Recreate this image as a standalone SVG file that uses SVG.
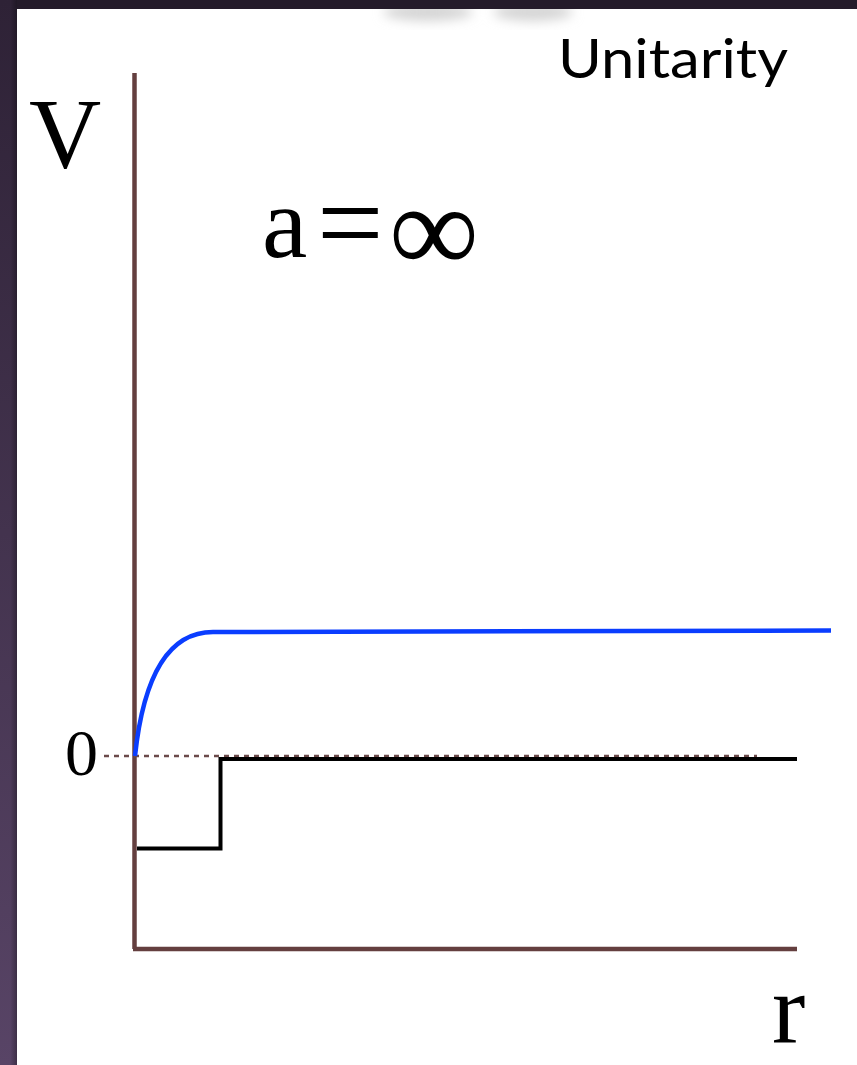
<svg xmlns="http://www.w3.org/2000/svg" width="857" height="1065" viewBox="0 0 857 1065">
<defs>
<linearGradient id="leftGrad" x1="0" y1="0" x2="0" y2="1">
<stop offset="0" stop-color="#2e2236"/>
<stop offset="1" stop-color="#584466"/>
</linearGradient>
<linearGradient id="leftEdge" x1="0" y1="0" x2="1" y2="0">
<stop offset="0" stop-color="#000" stop-opacity="0"/>
<stop offset="0.6" stop-color="#000" stop-opacity="0"/>
<stop offset="1" stop-color="#000" stop-opacity="0.3"/>
</linearGradient>
<filter id="blur" x="-50%" y="-50%" width="200%" height="200%">
<feGaussianBlur stdDeviation="6"/>
</filter>
<style>
.axis{stroke:#643f3f;stroke-width:4.5;fill:none}
.dash{stroke:#6b4a4a;stroke-width:2.5;stroke-dasharray:5 5;fill:none}
.pot{stroke:#000;stroke-width:4;fill:none}
.blue{stroke:#0a3dff;stroke-width:4.5;fill:none;stroke-linecap:butt}
.serif{font-family:"Liberation Serif","DejaVu Serif",serif;fill:#000}
.sans{font-family:Lato,"Open Sans","Liberation Sans",sans-serif;fill:#000}
</style>
</defs>
<rect x="0" y="0" width="857" height="1065" fill="#ffffff"/>
<g id="shadow" filter="url(#blur)" fill="#d4d4d4">
<ellipse cx="428" cy="12" rx="45" ry="9"/>
<ellipse cx="533" cy="12" rx="40" ry="9"/>
</g>
<rect x="0" y="0" width="857" height="9" fill="#241b2a"/>
<rect x="0" y="0" width="17" height="1065" fill="url(#leftGrad)"/>
<rect x="0" y="0" width="17" height="1065" fill="url(#leftEdge)"/>
<g id="axes">
<line class="axis" x1="134.5" y1="73" x2="134.5" y2="949"/>
<line class="axis" x1="133" y1="949" x2="797" y2="949"/>
</g>
<g id="connectors">
<line class="dash" x1="104" y1="756" x2="757" y2="756"/>
<path class="pot" d="M137 848.5 H220.5 V759 H797"/>
<path class="blue" d="M135 756 C142 690 162 632 213 632 L831 630.5"/>
</g>
<g id="label-V"><text class="serif" x="29" y="167" font-size="100">V</text></g>
<g id="label-unitarity"><text class="sans" x="558" y="78" font-size="55" textLength="230" lengthAdjust="spacingAndGlyphs">Unitarity</text></g>
<g id="label-a"><text class="serif" font-size="102"><tspan x="262" y="257">a</tspan><tspan x="317" y="263" font-size="118">=</tspan><tspan x="389" y="272" font-size="126">∞</tspan></text></g>
<g id="label-0"><text class="serif" x="65" y="775" font-size="66">0</text></g>
<g id="label-r"><text class="serif" x="772" y="1043" font-size="100">r</text></g>
</svg>
